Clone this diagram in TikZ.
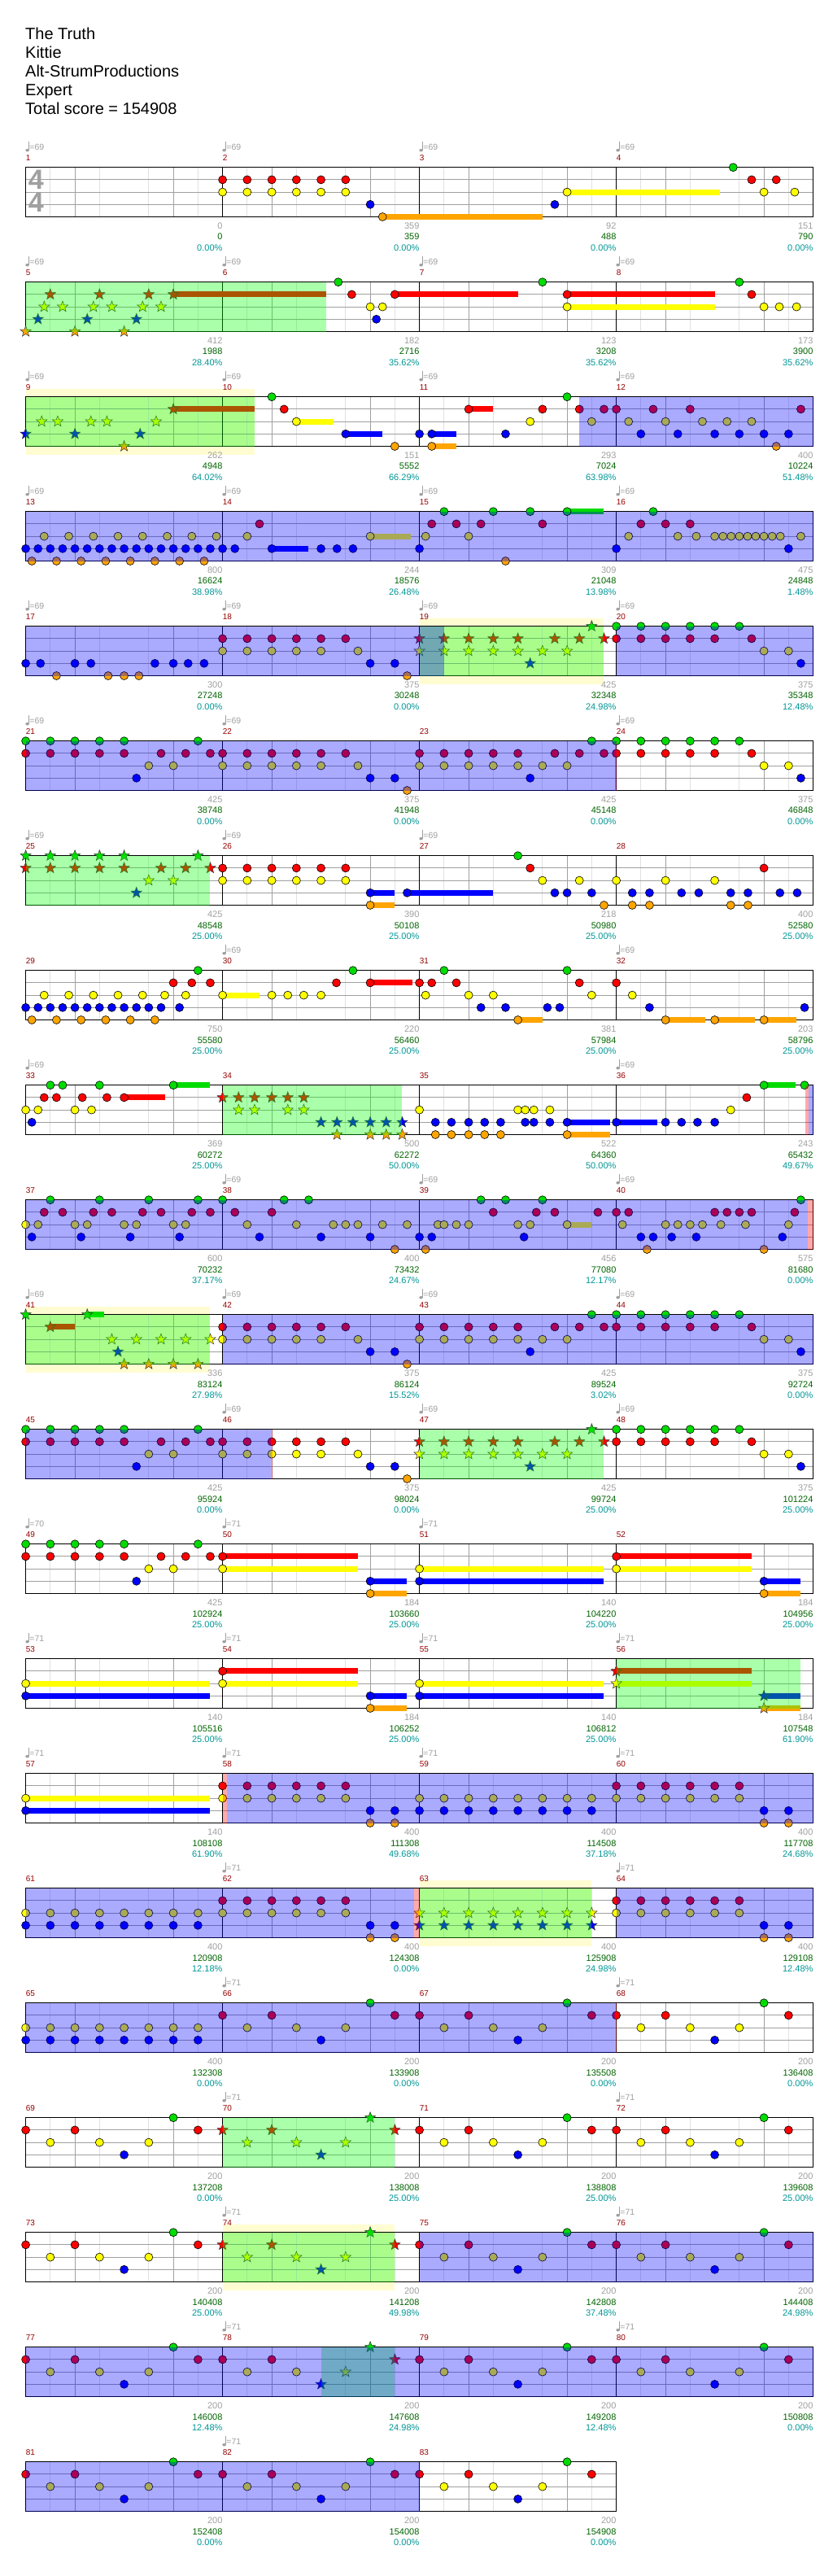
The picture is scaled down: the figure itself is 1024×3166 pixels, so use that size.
\documentclass[tikz,border=0pt]{standalone}
\usepackage{fontspec}
\setmainfont{Liberation Sans}
\usetikzlibrary{shapes.geometric}

\definecolor{nG}{RGB}{0,220,0}
\definecolor{nR}{RGB}{255,0,0}
\definecolor{nY}{RGB}{255,255,0}
\definecolor{nB}{RGB}{0,0,255}
\definecolor{nO}{RGB}{255,165,0}
\definecolor{mnum}{RGB}{150,0,0}
\definecolor{sgray}{RGB}{160,160,160}
\definecolor{sgreen}{RGB}{0,100,0}
\definecolor{steal}{RGB}{0,150,150}
\definecolor{gridline}{RGB}{160,160,160}
\definecolor{gridlight}{RGB}{225,225,225}

\tikzset{
  declare function={qx(\q)=31.6+15.125*\q; rowy(\rr)=205.7+141*(\rr-1);},
  nt/.style={draw=black,line width=0.6pt},
  starnote/.style={star,star points=5,star point ratio=2.4,minimum size=14pt,inner sep=0pt,draw=black!80,line width=0.5pt},
  spact/.style={fill=blue,opacity=0.333},
  spphrase/.style={fill=green,opacity=0.333},
  halo/.style={fill=yellow,opacity=0.18},
  squeeze/.style={fill=red,opacity=0.333},
  head/.style={anchor=base west,inner sep=0pt,font=\fontsize{20}{24}\selectfont},
  mtext/.style={anchor=west,inner sep=0pt,text=mnum,font=\fontsize{10}{12}\selectfont},
  bpmtext/.style={anchor=west,inner sep=0pt,text=sgray,font=\fontsize{10.5}{12}\selectfont},
  stat/.style={anchor=east,inner sep=0pt,font=\fontsize{11}{13}\selectfont},
}

% notes, stars, sustains and bands, by row and 16th
\newcommand\nts[4]{\foreach \q in {#4}{\draw[nt,fill=#3] ({qx(\q)},{rowy(#1)+15.2*#2}) circle[radius=5pt];}}
\newcommand\sts[4]{\foreach \q [count=\k] in {#4}{\node[starnote,fill=#3] (st-#1-#2-\k) at ({qx(\q)},{rowy(#1)+15.2*#2}) {};}}
\newcommand\susbar[5]{\fill[#3] ({qx(#4)},{rowy(#1)+15.2*#2-3.5}) rectangle ({qx(#5)},{rowy(#1)+15.2*#2+3.5});}
\newcommand\band[4]{\fill[#4] ({qx(#2)},{rowy(#1)}) rectangle ({qx(#3)},{rowy(#1)+60.8});}
\newcommand\halobox[3]{\fill[halo] ({qx(#2)},{rowy(#1)-10}) rectangle ({qx(#3)},{rowy(#1)+71});}

\begin{document}
\begin{tikzpicture}[x=1pt,y=-1pt]
\useasboundingbox (0,0) rectangle (1024,3166);
\fill[white] (0,0) rectangle (1024,3166);

% header
\node[head] (title) at (31,49) {The Truth};
\node[head] (artist) at (31,72) {Kittie};
\node[head] (charter) at (31,95) {Alt-StrumProductions};
\node[head] (level) at (31,118) {Expert};
\node[head] (total) at (31,141) {Total score = 154908};

% halos behind the phrases
\halobox{3}{0}{18.6}
\halobox{5}{32}{47}
\halobox{11}{0}{15}
\halobox{16}{32}{46}
\halobox{19}{16}{30}

% staves
\foreach \rw in {1,...,21}{
  \pgfmathtruncatemacro\nm{\rw==21 ? 3 : 4}
  \pgfmathtruncatemacro\qe{16*\nm}
  \pgfmathtruncatemacro\qlt{16*\nm-2}
  \pgfmathtruncatemacro\qgr{16*\nm-4}
  \pgfmathtruncatemacro\qbk{16*(\nm-1)}
  \pgfmathsetmacro\ty{rowy(\rw)}
  \foreach \q in {2,6,...,\qlt} \draw[gridlight,line width=0.9pt] ({qx(\q)},\ty) -- ({qx(\q)},{\ty+60.8});
  \foreach \l in {1,2,3} \draw[gridline,line width=0.9pt] ({qx(0)},{\ty+15.2*\l}) -- ({qx(\qe)},{\ty+15.2*\l});
  \foreach \q in {4,12,...,\qgr} \draw[gridline,line width=0.9pt] ({qx(\q)},\ty) -- ({qx(\q)},{\ty+60.8});
  \foreach \q in {16,32,...,\qbk} \draw[black,line width=0.9pt] ({qx(\q)},\ty) -- ({qx(\q)},{\ty+60.8});
  \draw[black,line width=1.3pt] ({qx(0)},\ty) rectangle ({qx(\qe)},{\ty+60.8});
}
\node[text=sgray,font=\fontsize{34}{34}\selectfont\bfseries,inner sep=0pt] (tsa) at (44.3,{rowy(1)+15.3}) {4};
\node[text=sgray,font=\fontsize{34}{34}\selectfont\bfseries,inner sep=0pt] (tsb) at (44.3,{rowy(1)+43}) {4};

% row 1
\susbar{1}{4}{nO}{29}{42}
\susbar{1}{2}{nY}{44}{56.4}
\nts{1}{1}{nR}{16,18,...,26,59,61}
\nts{1}{2}{nY}{16,18,...,26,44,60,62.5}
\nts{1}{3}{nB}{28,43}
\nts{1}{4}{nO}{29}
\nts{1}{0}{nG}{57.5}

% row 2
\susbar{2}{1}{nR}{12}{24.4}
\susbar{2}{1}{nR}{30}{40}
\susbar{2}{1}{nR}{44}{56}
\susbar{2}{2}{nY}{44}{56}
\sts{2}{1}{nR}{2,6,10,12}
\sts{2}{2}{nY}{1.5,3,5.5,7,9.5,11}
\sts{2}{3}{nB}{1,5,9}
\sts{2}{4}{nO}{0,4,8}
\nts{2}{0}{nG}{25.4,42,58}
\nts{2}{1}{nR}{26.5,30,44,59}
\nts{2}{2}{nY}{28,29,44,60,61.25,62.65}
\nts{2}{3}{nB}{28.5}

% row 3
\susbar{3}{1}{nR}{12}{18.6}
\susbar{3}{1}{nR}{36}{38}
\susbar{3}{2}{nY}{22}{25}
\susbar{3}{3}{nB}{26}{29}
\susbar{3}{3}{nB}{33}{35}
\susbar{3}{4}{nO}{33}{35}
\sts{3}{1}{nR}{12}
\sts{3}{2}{nY}{1.3,2.6,5.3,6.6,10.6}
\sts{3}{3}{nB}{0,4,9.3}
\sts{3}{4}{nO}{8}
\nts{3}{0}{nG}{20,44}
\nts{3}{1}{nR}{21,36,42,45,47,48,51,54,63}
\nts{3}{2}{nY}{22,41,46,49,52,55,57,59}
\nts{3}{3}{nB}{26,32,33,39,50,53,56,58,60,62}
\nts{3}{4}{nO}{30,33,61}

% row 4
\susbar{4}{3}{nB}{20}{23}
\susbar{4}{2}{nY}{28}{31.3}
\susbar{4}{0}{nG}{44}{47}
\nts{4}{3}{nB}{0,1,...,17,20,24,25.3,26.6,32,48,62}
\nts{4}{4}{nO}{0.5,2.5,...,14.5,39}
\nts{4}{2}{nY}{1.5,3.5,...,15.5,18,28,32.5,36,49,53,54.5,56,56.67,57.33,58,58.67,59.33,60,60.67,61.33,63}
\nts{4}{1}{nR}{19,33,35,37,42,50,52,54}
\nts{4}{0}{nG}{34,38,41,44,51}

% row 5
\nts{5}{3}{nB}{0,1.2,4,5.3,10.5,12,13.2,14.5,28,30,63}
\nts{5}{4}{nO}{2.5,6.7,8,9.2,31}
\nts{5}{1}{nR}{16,18,...,26,48,50,...,56,59}
\nts{5}{2}{nY}{16,18,...,24,27,60,62}
\nts{5}{0}{nG}{48,50,...,58}
\sts{5}{1}{nR}{32,34,...,40,43,45,47}
\sts{5}{2}{nY}{32,34,...,44}
\sts{5}{3}{nB}{41}
\sts{5}{0}{nG}{46}

% row 6
\nts{6}{0}{nG}{0,2,...,8,14,46,48,50,...,58}
\nts{6}{1}{nR}{0,2,...,8,11,13,15,16,18,...,26,32,34,...,40,43,45,47,48,50,...,56,59}
\nts{6}{2}{nY}{10,12,16,18,...,24,27,32,34,...,44,60,62}
\nts{6}{3}{nB}{9,28,30,41,63}
\nts{6}{4}{nO}{31}

% row 7
\susbar{7}{3}{nB}{28}{30}
\susbar{7}{3}{nB}{31}{38}
\susbar{7}{4}{nO}{28}{30}
\sts{7}{0}{nG}{0,2,...,8,14}
\sts{7}{1}{nR}{0,2,...,8,11,13,15}
\sts{7}{2}{nY}{10,12}
\sts{7}{3}{nB}{9}
\nts{7}{0}{nG}{40}
\nts{7}{1}{nR}{16,18,...,26,41,60}
\nts{7}{2}{nY}{16,18,...,26,42,45,48,52,56}
\nts{7}{3}{nB}{28,31,43,44,46,49.3,50.7,53.3,54.7,57.3,58.7,61.3,62.7}
\nts{7}{4}{nO}{28,47,49.3,50.7,57.3,58.7}

% row 8
\susbar{8}{4}{nO}{40}{42}
\susbar{8}{4}{nO}{52}{55.25}
\susbar{8}{4}{nO}{56}{59.25}
\susbar{8}{4}{nO}{60}{62.65}
\susbar{8}{2}{nY}{16}{19}
\susbar{8}{1}{nR}{28}{31.4}
\nts{8}{3}{nB}{0,1,...,11,12.5,37,39,42.4,43.4,50.7,63.3}
\nts{8}{4}{nO}{0.5,2.5,...,10.5,40,52,56,60}
\nts{8}{2}{nY}{1.5,3.5,...,9.5,11.3,13,16,20,21.3,22.6,24,32.5,36,38,46,49.3}
\nts{8}{1}{nR}{12,13.5,15,25.25,28,32,33,35,45,48}
\nts{8}{0}{nG}{14,26.6,34,44}

% row 9
\susbar{9}{0}{nG}{12}{15}
\susbar{9}{0}{nG}{60}{62.6}
\susbar{9}{1}{nR}{8}{11.3}
\susbar{9}{3}{nB}{44}{47.5}
\susbar{9}{3}{nB}{48}{51.3}
\susbar{9}{4}{nO}{44}{47.5}
\nts{9}{0}{nG}{2,3,6,12,60,63.3}
\nts{9}{1}{nR}{1.5,2.5,4.6,6.6,8,58.6}
\nts{9}{2}{nY}{0,1,4,5.35,32,40,40.6,41.3,42.6,57.3}
\nts{9}{3}{nB}{0.5,33.3,34.6,36,37.3,38.6,40.6,41.3,42.6,44,48,52,53.3,54.6,56}
\nts{9}{4}{nO}{33.3,34.6,36,37.3,38.6,44}
\sts{9}{1}{nR}{16,17.3,18.6,20,21.3,22.6}
\sts{9}{2}{nY}{17.3,18.6,21.3,22.6}
\sts{9}{3}{nB}{24,25.3,26.6,28,29.3,30.6}
\sts{9}{4}{nO}{25.3,28,29.3,30.6}

% row 10
\susbar{10}{2}{nY}{44}{46}
\nts{10}{0}{nG}{2,6,10,14,16,21,23,37,39,42,63}
\nts{10}{1}{nR}{1.5,3,5.5,7,9.5,11,13.5,15,17,20,38,41.5,43,46.5,48,49,56,57,58,59,62.5}
\nts{10}{2}{nY}{0,1,4,5,8,9,12,13,18,22,25,26,27,29,31,33.5,34,35,36,40,41,44,48.5,52,53,54,55,56.5,58.5,62}
\nts{10}{3}{nB}{0.5,4.5,8.5,12.5,19,24,28,32,33,40.5,50,51,52.5,54.5,61.5}
\nts{10}{4}{nO}{30,32.5,50.5,60}

% row 11
\susbar{11}{0}{nG}{5}{6.4}
\susbar{11}{1}{nR}{2}{4}
\sts{11}{0}{nG}{0,5}
\sts{11}{1}{nR}{2}
\sts{11}{2}{nY}{7,9,11,13,15}
\sts{11}{3}{nB}{7.5}
\sts{11}{4}{nO}{8,10,12,14}
\nts{11}{1}{nR}{16,18,...,26,32,34,...,40,43,45,47,48,50,...,56,59}
\nts{11}{2}{nY}{16,18,...,24,27,32,34,...,44,60,62}
\nts{11}{3}{nB}{28,30,41,63}
\nts{11}{4}{nO}{31}
\nts{11}{0}{nG}{46,48,...,58}

% row 12
\nts{12}{0}{nG}{0,2,...,8,14,48,50,...,58}
\nts{12}{1}{nR}{0,2,...,8,11,13,15,16,18,...,26,48,50,...,56,59}
\nts{12}{2}{nY}{10,12,16,18,...,24,27,60,62}
\nts{12}{3}{nB}{9,28,30,63}
\nts{12}{4}{nO}{31}
\sts{12}{0}{nG}{46}
\sts{12}{1}{nR}{32,34,...,40,43,45,47}
\sts{12}{2}{nY}{32,34,...,44}
\sts{12}{3}{nB}{41}

% row 13
\susbar{13}{1}{nR}{16}{27}
\susbar{13}{1}{nR}{48}{59}
\susbar{13}{2}{nY}{16}{27}
\susbar{13}{2}{nY}{32}{47}
\susbar{13}{2}{nY}{48}{59}
\susbar{13}{3}{nB}{28}{31}
\susbar{13}{3}{nB}{32}{47}
\susbar{13}{3}{nB}{60}{63}
\susbar{13}{4}{nO}{28}{31}
\susbar{13}{4}{nO}{60}{63}
\nts{13}{0}{nG}{0,2,...,8,14}
\nts{13}{1}{nR}{0,2,...,8,11,13,15,16,48}
\nts{13}{2}{nY}{10,12,16,32,48}
\nts{13}{3}{nB}{9,28,32,60}
\nts{13}{4}{nO}{28,60}

% row 14
\susbar{14}{2}{nY}{0}{15}
\susbar{14}{2}{nY}{16}{27}
\susbar{14}{2}{nY}{32}{47}
\susbar{14}{3}{nB}{0}{15}
\susbar{14}{3}{nB}{28}{31}
\susbar{14}{3}{nB}{32}{47}
\susbar{14}{1}{nR}{16}{27}
\susbar{14}{4}{nO}{28}{31}
\susbar{14}{1}{nR}{48}{59}
\susbar{14}{2}{nY}{48}{59}
\susbar{14}{3}{nB}{60}{63}
\susbar{14}{4}{nO}{60}{63}
\nts{14}{2}{nY}{0,16,32}
\nts{14}{3}{nB}{0,28,32}
\nts{14}{1}{nR}{16}
\nts{14}{4}{nO}{28}
\sts{14}{1}{nR}{48}
\sts{14}{2}{nY}{48}
\sts{14}{3}{nB}{60}
\sts{14}{4}{nO}{60}

% row 15
\susbar{15}{2}{nY}{0}{15}
\susbar{15}{3}{nB}{0}{15}
\nts{15}{2}{nY}{0,16,18,...,26,32,34,...,46,48,50,...,58}
\nts{15}{3}{nB}{0,28,30,32,34,...,46,60,62}
\nts{15}{1}{nR}{16,18,...,26,48,50,...,58}
\nts{15}{4}{nO}{28,30,60,62}

% row 16
\nts{16}{2}{nY}{0,2,...,26,48,50,...,58}
\nts{16}{3}{nB}{0,2,...,14,28,30,60,62}
\nts{16}{1}{nR}{16,18,...,26,48,50,...,58}
\nts{16}{4}{nO}{28,30,60,62}
\sts{16}{2}{nY}{32,34,...,46}
\sts{16}{3}{nB}{32,34,...,46}

% row 17
\nts{17}{2}{nY}{0,2,...,14,18,22,26,34,38,42,50,54,58}
\nts{17}{3}{nB}{0,2,...,14,24,40,56}
\nts{17}{1}{nR}{16,20,30,32,36,46,48,52,62}
\nts{17}{0}{nG}{28,44,60}

% rows 18 and 19
\foreach \rw in {18,19}{
  \nts{\rw}{1}{nR}{0,4,14,32,36,46,48,52,62}
  \nts{\rw}{2}{nY}{2,6,10,34,38,42,50,54,58}
  \nts{\rw}{3}{nB}{8,40,56}
  \nts{\rw}{0}{nG}{12,44,60}
  \sts{\rw}{1}{nR}{16,20,30}
  \sts{\rw}{2}{nY}{18,22,26}
  \sts{\rw}{3}{nB}{24}
  \sts{\rw}{0}{nG}{28}
}

% row 20
\nts{20}{1}{nR}{0,4,14,16,20,32,36,46,48,52,62}
\nts{20}{2}{nY}{2,6,10,18,22,34,38,42,50,54,58}
\nts{20}{3}{nB}{8,40,56}
\nts{20}{0}{nG}{12,44,60}
\sts{20}{3}{nB}{24}
\sts{20}{2}{nY}{26}
\sts{20}{0}{nG}{28}
\sts{20}{1}{nR}{30}

% row 21
\nts{21}{1}{nR}{0,4,14,16,20,30,32,36,46}
\nts{21}{2}{nY}{2,6,10,18,22,26,34,38,42}
\nts{21}{3}{nB}{8,24,40}
\nts{21}{0}{nG}{12,28,44}

% star power phrases
\band{2}{0}{24.4}{spphrase}
\band{3}{0}{18.6}{spphrase}
\band{5}{32}{47}{spphrase}
\band{7}{0}{15}{spphrase}
\band{9}{16}{30.6}{spphrase}
\band{11}{0}{15}{spphrase}
\band{12}{32}{47}{spphrase}
\band{14}{48}{63}{spphrase}
\band{16}{32}{46}{spphrase}
\band{18}{16}{30}{spphrase}
\band{19}{16}{30}{spphrase}
\band{20}{24}{30}{spphrase}

% star power active
\band{3}{45}{64}{spact}
\band{4}{0}{64}{spact}
\band{5}{0}{34}{spact}
\band{5}{48}{64}{spact}
\band{6}{0}{48}{spact}
\band{9}{63.65}{64}{spact}
\band{10}{0}{63.56}{spact}
\band{11}{16}{64}{spact}
\band{12}{0}{19.9}{spact}
\band{15}{16.33}{64}{spact}
\band{16}{0}{31.56}{spact}
\band{16}{48}{64}{spact}
\band{17}{0}{47.9}{spact}
\band{19}{32}{64}{spact}
\band{20}{0}{64}{spact}
\band{21}{0}{32}{spact}

% red markers
\band{6}{47.9}{48.05}{squeeze}
\band{9}{63.35}{63.65}{squeeze}
\band{10}{63.56}{64}{squeeze}
\band{12}{19.9}{20.05}{squeeze}
\band{15}{16}{16.33}{squeeze}
\band{16}{31.56}{32}{squeeze}
\band{17}{47.9}{48}{squeeze}

% measure numbers
\foreach \mm in {1,...,83}{
  \pgfmathtruncatemacro\rw{int((\mm-1)/4)+1}
  \pgfmathsetmacro\xm{31.6+242*mod(\mm-1,4)}
  \node[mtext] (mn\mm) at ({\xm},{rowy(\rw)-11.7}) {\mm};
}

% tempo marks
\foreach \mm/\tp in {1/69,2/69,3/69,4/69,5/69,6/69,7/69,8/69,9/69,10/69,11/69,12/69,
  13/69,14/69,15/69,16/69,17/69,18/69,19/69,20/69,21/69,22/69,24/69,25/69,26/69,27/69,
  30/69,32/69,33/69,36/69,38/69,39/69,40/69,41/69,42/69,43/69,44/69,46/69,47/69,48/69,
  49/70,50/71,51/71,53/71,54/71,55/71,56/71,57/71,58/71,59/71,60/71,62/71,64/71,
  66/71,68/71,70/71,72/71,74/71,76/71,78/71,80/71,82/71}{
  \pgfmathtruncatemacro\rw{int((\mm-1)/4)+1}
  \pgfmathsetmacro\xm{31.6+242*mod(\mm-1,4)}
  \pgfmathsetmacro\ty{rowy(\rw)}
  \fill[sgray] ({\xm+2},{\ty-21}) ellipse[x radius=2.3pt,y radius=1.8pt];
  \draw[sgray,line width=0.7pt] ({\xm+4},{\ty-21.5}) -- ({\xm+4},{\ty-32});
  \node[bpmtext] (bpm\mm) at ({\xm+4.6},{\ty-24.7}) {=\tp};
}

% measure scores
\foreach \mm/\mv/\tv/\pv in {
  1/0/0/0.00, 2/359/359/0.00, 3/92/488/0.00, 4/151/790/0.00,
  5/412/1988/28.40, 6/182/2716/35.62, 7/123/3208/35.62, 8/173/3900/35.62,
  9/262/4948/64.02, 10/151/5552/66.29, 11/293/7024/63.98, 12/400/10224/51.48,
  13/800/16624/38.98, 14/244/18576/26.48, 15/309/21048/13.98, 16/475/24848/1.48,
  17/300/27248/0.00, 18/375/30248/0.00, 19/425/32348/24.98, 20/375/35348/12.48,
  21/425/38748/0.00, 22/375/41948/0.00, 23/425/45148/0.00, 24/375/46848/0.00,
  25/425/48548/25.00, 26/390/50108/25.00, 27/218/50980/25.00, 28/400/52580/25.00,
  29/750/55580/25.00, 30/220/56460/25.00, 31/381/57984/25.00, 32/203/58796/25.00,
  33/369/60272/25.00, 34/500/62272/50.00, 35/522/64360/50.00, 36/243/65432/49.67,
  37/600/70232/37.17, 38/400/73432/24.67, 39/456/77080/12.17, 40/575/81680/0.00,
  41/336/83124/27.98, 42/375/86124/15.52, 43/425/89524/3.02, 44/375/92724/0.00,
  45/425/95924/0.00, 46/375/98024/0.00, 47/425/99724/25.00, 48/375/101224/25.00,
  49/425/102924/25.00, 50/184/103660/25.00, 51/140/104220/25.00, 52/184/104956/25.00,
  53/140/105516/25.00, 54/184/106252/25.00, 55/140/106812/25.00, 56/184/107548/61.90,
  57/140/108108/61.90, 58/400/111308/49.68, 59/400/114508/37.18, 60/400/117708/24.68,
  61/400/120908/12.18, 62/400/124308/0.00, 63/400/125908/24.98, 64/400/129108/12.48,
  65/400/132308/0.00, 66/200/133908/0.00, 67/200/135508/0.00, 68/200/136408/0.00,
  69/200/137208/0.00, 70/200/138008/25.00, 71/200/138808/25.00, 72/200/139608/25.00,
  73/200/140408/25.00, 74/200/141208/49.98, 75/200/142808/37.48, 76/200/144408/24.98,
  77/200/146008/12.48, 78/200/147608/24.98, 79/200/149208/12.48, 80/200/150808/0.00,
  81/200/152408/0.00, 82/200/154008/0.00, 83/200/154908/0.00}{
  \pgfmathtruncatemacro\rw{int((\mm-1)/4)+1}
  \pgfmathsetmacro\xe{31.6+242*(mod(\mm-1,4)+1)}
  \pgfmathsetmacro\ty{rowy(\rw)}
  \node[stat,text=sgray] (ms\mm) at ({\xe},{\ty+72}) {\mv};
  \node[stat,text=sgreen] (ts\mm) at ({\xe},{\ty+85.5}) {\tv};
  \node[stat,text=steal] (pc\mm) at ({\xe},{\ty+99}) {\pv\%};
}
\end{tikzpicture}
\end{document}
